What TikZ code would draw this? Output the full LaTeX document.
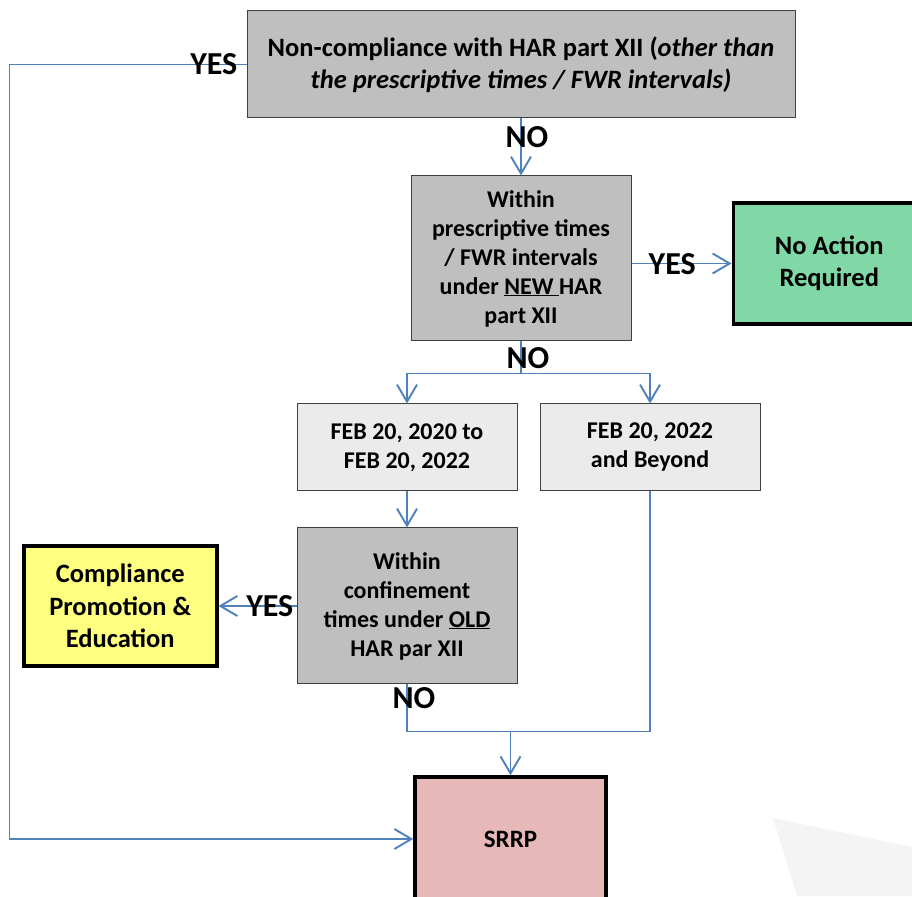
\documentclass[tikz,border=0pt]{standalone}
\usepackage{fontspec}
\setmainfont{Carlito}
\usepackage{tikz}
\usetikzlibrary{arrows.meta,positioning,calc}
\usepackage{xcolor}
\definecolor{cQuery}{RGB}{191,191,191}
\definecolor{cPeriod}{RGB}{235,235,235}
\definecolor{cNone}{RGB}{128,216,166}
\definecolor{cEdu}{RGB}{255,255,128}
\definecolor{cSrrp}{RGB}{230,184,183}
\definecolor{cFlow}{RGB}{79,129,189}
\definecolor{cShade}{RGB}{244,244,244}

\begin{document}
\begin{tikzpicture}[x=1pt, y=1pt,
  font=\bfseries\fontsize{24}{29}\selectfont,
  query/.style={rectangle, draw=black!75, line width=1pt, fill=cQuery, align=center, inner sep=2pt},
  period/.style={query, fill=cPeriod},
  outcome/.style={rectangle, draw=black, line width=3.5pt, align=center, inner sep=2pt,
    font=\bfseries\fontsize{26.5}{32.5}\selectfont},
  flow/.style={-{Straight Barb[length=17pt,width=20pt]}, line width=1.9pt, draw=cFlow},
  link/.style={line width=1.9pt, draw=cFlow},
  answer/.style={font=\bfseries\fontsize{32}{38}\selectfont, inner sep=0pt},
]
\useasboundingbox (0,0) rectangle (912,896);
\fill[cShade] (773,78) -- (912,49) -- (912,0) -- (797,0) -- cycle;
\node[query, minimum width=548pt, minimum height=107pt, font=\bfseries\fontsize{26.5}{32}\selectfont]
  (nc) at (521,831.5) {Non-compliance with HAR part XII (\textit{other than}\\\textit{the prescriptive times / FWR intervals)}};
\node[query, below=57pt of nc, minimum width=220pt, minimum height=165pt] (newq)
  {Within\\prescriptive times\\/ FWR intervals\\under \underline{NEW\ }HAR\\part XII};
\node[outcome, fill=cNone, right=100pt of newq, yshift=-5pt, minimum width=192pt, minimum height=121pt] (noact)
  {No Action\\Required};
\node[period, minimum width=220pt, minimum height=87pt] (feb1) at (407,448.5) {FEB 20, 2020 to\\FEB 20, 2022};
\node[period, right=22pt of feb1, minimum width=220pt, minimum height=87pt] (feb2) {FEB 20, 2022\\and Beyond};
\node[query, below=36pt of feb1, minimum width=220pt, minimum height=156pt] (old)
  {Within\\confinement\\times under \underline{OLD}\\HAR par XII};
\node[outcome, fill=cEdu, left=78pt of old, minimum width=193pt, minimum height=120pt] (comp)
  {Compliance\\Promotion \&\\Education};
\node[outcome, fill=cSrrp, minimum width=191pt, minimum height=124pt, font=\bfseries\fontsize{25}{30}\selectfont]
  (srrp) at (510.5,57) {SRRP};
% connectors
\draw[flow] (nc.west) -- ++(-237pt,0) |- (srrp.west);
\draw[flow] (newq.north |- nc.south) -- (newq.north);
\draw[flow] (newq.east |- noact.west) -- (noact.west);
\draw[link] (newq.south) -- ++(0,-32pt) coordinate (split);
\draw[flow] (split) -| (feb1.north);
\draw[flow] (split) -| (feb2.north);
\draw[flow] (feb1) -- (old);
\draw[flow] (old.west) -- (old.west -| comp.east);
\path (old.south) ++(0,-47pt) coordinate (bend);
\draw[link] (old.south) -- (bend) -| (feb2.south);
\draw[flow] (bend -| srrp.north) -- (srrp.north);
% answers
\node[answer, anchor=east] at ([xshift=-9pt]nc.west) {YES};
\node[answer, anchor=north] at ([xshift=6pt,yshift=-8pt]nc.south) {NO};
\node[answer, right=17pt of newq.east, yshift=-6pt] {YES};
\node[answer, below=6pt of newq.south, xshift=7pt] {NO};
\node[answer, left=3pt of old.west] {YES};
\node[answer, below=3pt of old.south, xshift=7pt] {NO};
\end{tikzpicture}
\end{document}
